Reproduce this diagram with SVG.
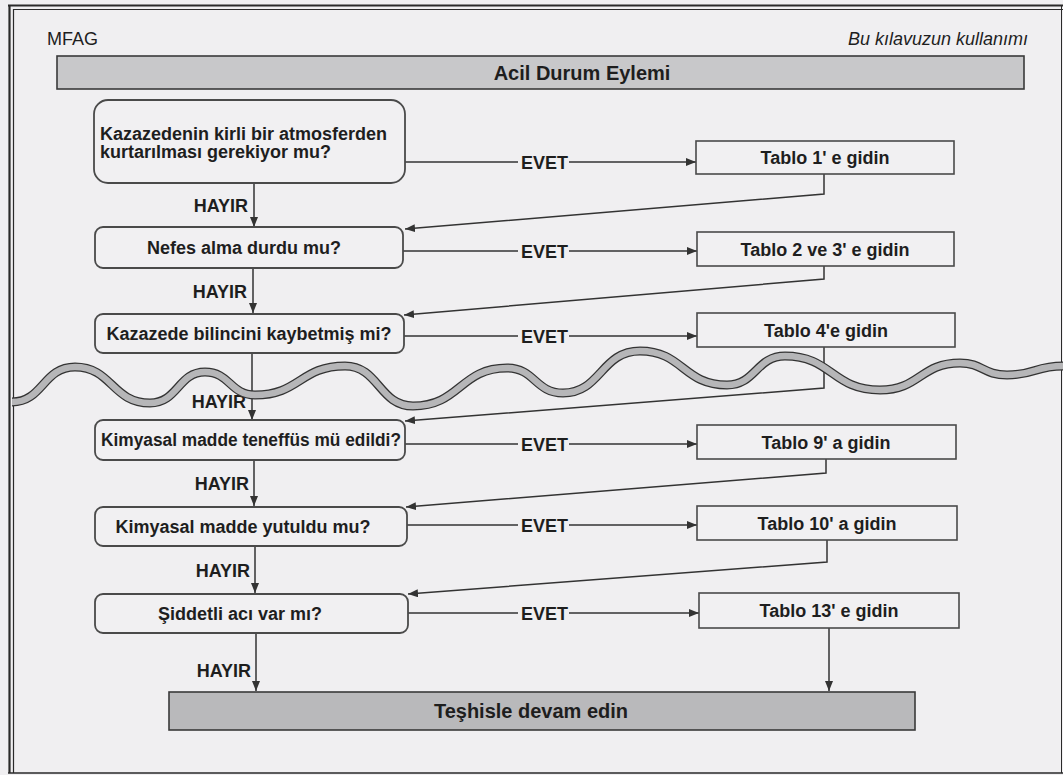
<svg xmlns="http://www.w3.org/2000/svg" width="1063" height="775" viewBox="0 0 1063 775">
<defs>
<style>
.bg{fill:#f0eff1}
.q{fill:#f1f0f2;stroke:#4a4a4a;stroke-width:1.8}
.t{fill:#f1f0f2;stroke:#4a4a4a;stroke-width:1.6}
.bar{stroke:#3a3a3a;stroke-width:1.6}
.lbl{font-family:"Liberation Sans",Arial,sans-serif;font-weight:bold;font-size:18px;fill:#1e1e1e}
.big{font-family:"Liberation Sans",Arial,sans-serif;font-weight:bold;font-size:20px;fill:#1e1e1e}
.hdr{font-family:"Liberation Sans",Arial,sans-serif;font-size:18px;fill:#1e1e1e}
.c{text-anchor:middle}
.e{text-anchor:end}
.ln{fill:none;stroke:#333;stroke-width:1.5}
.ar{fill:none;stroke:#333;stroke-width:1.5;marker-end:url(#ah)}
.fr{fill:none;stroke:#2a2a2a}
.wo{fill:none;stroke:#333;stroke-width:9}
.wi{fill:none;stroke:#b6b6b8;stroke-width:6.5}
</style>
<marker id="ah" viewBox="0 0 10 8" refX="10" refY="4" markerWidth="10" markerHeight="8" markerUnits="userSpaceOnUse" orient="auto">
<path d="M0,0 L10,4 L0,8 z" fill="#333"/>
</marker>
<path id="wavepath" d="M12,402 C43,402 43,367 75,367 C112,367 112,403 150,403 C178,403 178,372 205,372 C230,372 230,395 255,395 C300,395 300,366 345,366 C379,366 379,406 413,406 C460,406 460,368 507,368 C535,368 535,393 563,393 C601,393 601,351 640,351 C683,351 683,385 727,385 C756,385 756,356 785,356 C832,356 832,390 880,390 C920,390 920,363 960,363 C983,363 983,375 1007,375 C1035,375 1035,366 1063,366"/>
</defs>
<rect class="bg" x="0" y="0" width="1063" height="775"/>
<g id="frame">
<line class="fr" x1="9.5" y1="5" x2="9.5" y2="773" stroke-width="2.2"/>
<line class="fr" x1="13.5" y1="9" x2="13.5" y2="773" stroke-width="1.2"/>
<line class="fr" x1="8" y1="5.5" x2="1063" y2="5.5" stroke-width="2.2"/>
<line class="fr" x1="13" y1="9.5" x2="1063" y2="9.5" stroke-width="1"/>
<line class="fr" x1="1061.5" y1="5" x2="1061.5" y2="773" stroke-width="1"/>
<line class="fr" x1="8" y1="773" x2="1063" y2="773" stroke-width="1.5"/>
</g>
<g id="page-header">
<text class="hdr" x="47" y="45">MFAG</text>
<text class="hdr e" x="1028" y="45" font-style="italic" font-size="17">Bu kılavuzun kullanımı</text>
</g>
<g id="connectors">
<line class="ar" x1="254" y1="183" x2="254" y2="227"/>
<line class="ar" x1="253" y1="268" x2="253" y2="313"/>
<line class="ar" x1="252" y1="353" x2="252" y2="420"/>
<line class="ar" x1="254" y1="460" x2="254" y2="506"/>
<line class="ar" x1="255" y1="546" x2="255" y2="593"/>
<line class="ar" x1="256" y1="633" x2="256" y2="691"/>
<line class="ln" x1="405" y1="162" x2="518" y2="162"/>
<line class="ar" x1="569" y1="162" x2="696" y2="162"/>
<line class="ln" x1="403" y1="251" x2="518" y2="251"/>
<line class="ar" x1="569" y1="251" x2="697" y2="251"/>
<line class="ln" x1="404" y1="336" x2="518" y2="336"/>
<line class="ar" x1="569" y1="336" x2="697" y2="336"/>
<line class="ln" x1="405" y1="444" x2="518" y2="444"/>
<line class="ar" x1="569" y1="444" x2="697" y2="444"/>
<line class="ln" x1="407" y1="525" x2="518" y2="525"/>
<line class="ar" x1="569" y1="525" x2="697" y2="525"/>
<line class="ln" x1="408" y1="613" x2="518" y2="613"/>
<line class="ar" x1="569" y1="613" x2="699" y2="613"/>
<polyline class="ar" points="824,174 824,194 405,229"/>
<polyline class="ar" points="824,266 824,279 404,315"/>
<polyline class="ar" points="824,347 824,388 405,421"/>
<polyline class="ar" points="826,459 826,473 406,507"/>
<polyline class="ar" points="827,540 827,562 408,594"/>
<line class="ar" x1="829" y1="628" x2="829" y2="691"/>
<text class="lbl e" x="248" y="212">HAYIR</text>
<text class="lbl e" x="247" y="298">HAYIR</text>
<text class="lbl e" x="246" y="408">HAYIR</text>
<text class="lbl e" x="249" y="490">HAYIR</text>
<text class="lbl e" x="250" y="577">HAYIR</text>
<text class="lbl e" x="251" y="677">HAYIR</text>
<text class="lbl" x="521" y="168.5">EVET</text>
<text class="lbl" x="521" y="257.5">EVET</text>
<text class="lbl" x="521" y="342.5">EVET</text>
<text class="lbl" x="521" y="450.5">EVET</text>
<text class="lbl" x="521" y="531.5">EVET</text>
<text class="lbl" x="521" y="619.5">EVET</text>
</g>
<g id="n-header">
<rect class="bar" x="57" y="56" width="967" height="33" fill="#c8c8ca"/>
<text class="big c" x="582" y="80">Acil Durum Eylemi</text>
</g>
<g id="n-q1">
<rect class="q" x="94" y="100" width="311" height="83" rx="14"/>
<text class="lbl" x="100" y="140">Kazazedenin kirli bir atmosferden</text>
<text class="lbl" x="100" y="158">kurtarılması gerekiyor mu?</text>
</g>
<g id="n-t1">
<rect class="t" x="696" y="141" width="258" height="33"/>
<text class="lbl c" x="825" y="164">Tablo 1' e gidin</text>
</g>
<g id="n-q2">
<rect class="q" x="95" y="227" width="308" height="41" rx="8"/>
<text class="lbl c" x="244" y="254">Nefes alma durdu mu?</text>
</g>
<g id="n-t2">
<rect class="t" x="697" y="232" width="257" height="34"/>
<text class="lbl c" x="825" y="256">Tablo 2 ve 3' e gidin</text>
</g>
<g id="n-q3">
<rect class="q" x="95" y="314" width="309" height="39" rx="8"/>
<text class="lbl c" x="249" y="340">Kazazede bilincini kaybetmiş mi?</text>
</g>
<g id="n-t4">
<rect class="t" x="697" y="313" width="258" height="34"/>
<text class="lbl c" x="826" y="337">Tablo 4'e gidin</text>
</g>
<g id="n-q4">
<rect class="q" x="95" y="420" width="310" height="40" rx="8"/>
<text class="lbl c" x="251" y="446" textLength="300" lengthAdjust="spacingAndGlyphs">Kimyasal madde teneffüs mü edildi?</text>
</g>
<g id="n-t9">
<rect class="t" x="697" y="425" width="259" height="34"/>
<text class="lbl c" x="826" y="449">Tablo 9' a gidin</text>
</g>
<g id="n-q5">
<rect class="q" x="95" y="507" width="312" height="39" rx="8"/>
<text class="lbl c" x="243" y="533">Kimyasal madde yutuldu mu?</text>
</g>
<g id="n-t10">
<rect class="t" x="697" y="506" width="260" height="34"/>
<text class="lbl c" x="827" y="530">Tablo 10' a gidin</text>
</g>
<g id="n-q6">
<rect class="q" x="95" y="594" width="313" height="39" rx="8"/>
<text class="lbl c" x="240" y="620">Şiddetli acı var mı?</text>
</g>
<g id="n-t13">
<rect class="t" x="699" y="593" width="260" height="35"/>
<text class="lbl c" x="829" y="617">Tablo 13' e gidin</text>
</g>
<g id="n-end">
<rect class="bar" x="169" y="692" width="746" height="38" fill="#b9b9bb"/>
<text class="big c" x="531" y="718">Teşhisle devam edin</text>
</g>
<g id="wave">
<use href="#wavepath" class="wo"/>
<use href="#wavepath" class="wi"/>
</g>
</svg>
